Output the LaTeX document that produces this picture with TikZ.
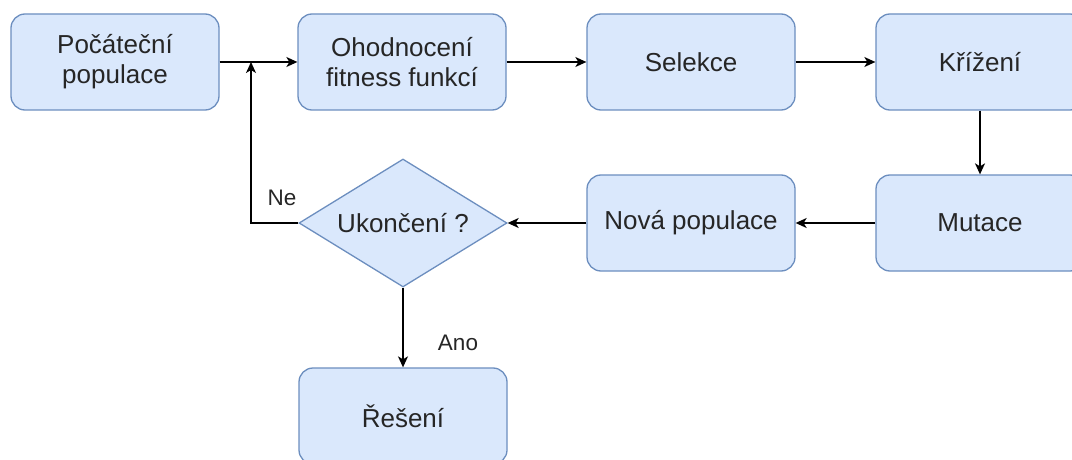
\documentclass[tikz,border=0pt]{standalone}
\usepackage{fontspec}
\setmainfont{Liberation Sans}
\usetikzlibrary{shapes.geometric,arrows.meta}
\definecolor{boxfill}{HTML}{DAE8FC}
\definecolor{boxline}{HTML}{6C8EBF}
\definecolor{txt}{HTML}{262626}
\tikzset{
  krok/.style={draw=boxline,fill=boxfill,line width=1.3pt,rounded corners=14pt,minimum width=208pt,minimum height=96pt,inner sep=0pt,align=center,text=txt,font=\fontsize{26}{30}\selectfont},
  rozhod/.style={draw=boxline,fill=boxfill,line width=1.3pt,diamond,aspect=1.625,minimum width=208pt,minimum height=128pt,inner sep=0pt,text=txt,font=\fontsize{26}{30}\selectfont},
  sipka/.style={line width=1.4pt,-{Stealth[length=11pt,width=10pt,inset=3pt]}},
  popis/.style={text=txt,font=\fontsize{22.5}{26}\selectfont}
}
\begin{document}
\begin{tikzpicture}[x=1pt,y=-1pt]
\useasboundingbox (0,0) rectangle (1072,460);
\node[krok] (pocatek) at (115,62) {Počáteční\\populace};
\node[krok] (hodnoceni) at (402,62) {Ohodnocení\\fitness funkcí};
\node[krok] (selekce) at (691,62) {Selekce};
\node[krok] (krizeni) at (980,62) {Křížení};
\node[krok] (mutace) at (980,223) {Mutace};
\node[krok] (nova) at (691,223) {Nová populace};
\node[rozhod] (konec) at (403,223) {Ukončení ?};
\node[krok] (reseni) at (403,416) {Řešení};
\node[popis] (ne) at (282,198) {Ne};
\node[popis] (ano) at (458,343) {Ano};
\coordinate (spoj) at (251,62);
\draw[sipka] (pocatek) -- (hodnoceni);
\draw[sipka] (hodnoceni) -- (selekce);
\draw[sipka] (selekce) -- (krizeni);
\draw[sipka] (krizeni) -- (mutace);
\draw[sipka] (mutace) -- (nova);
\draw[sipka] (nova) -- (konec);
\draw[sipka] (konec.south) -- (reseni.north);
\draw[sipka] (konec.west) -| (spoj);
\end{tikzpicture}
\end{document}
